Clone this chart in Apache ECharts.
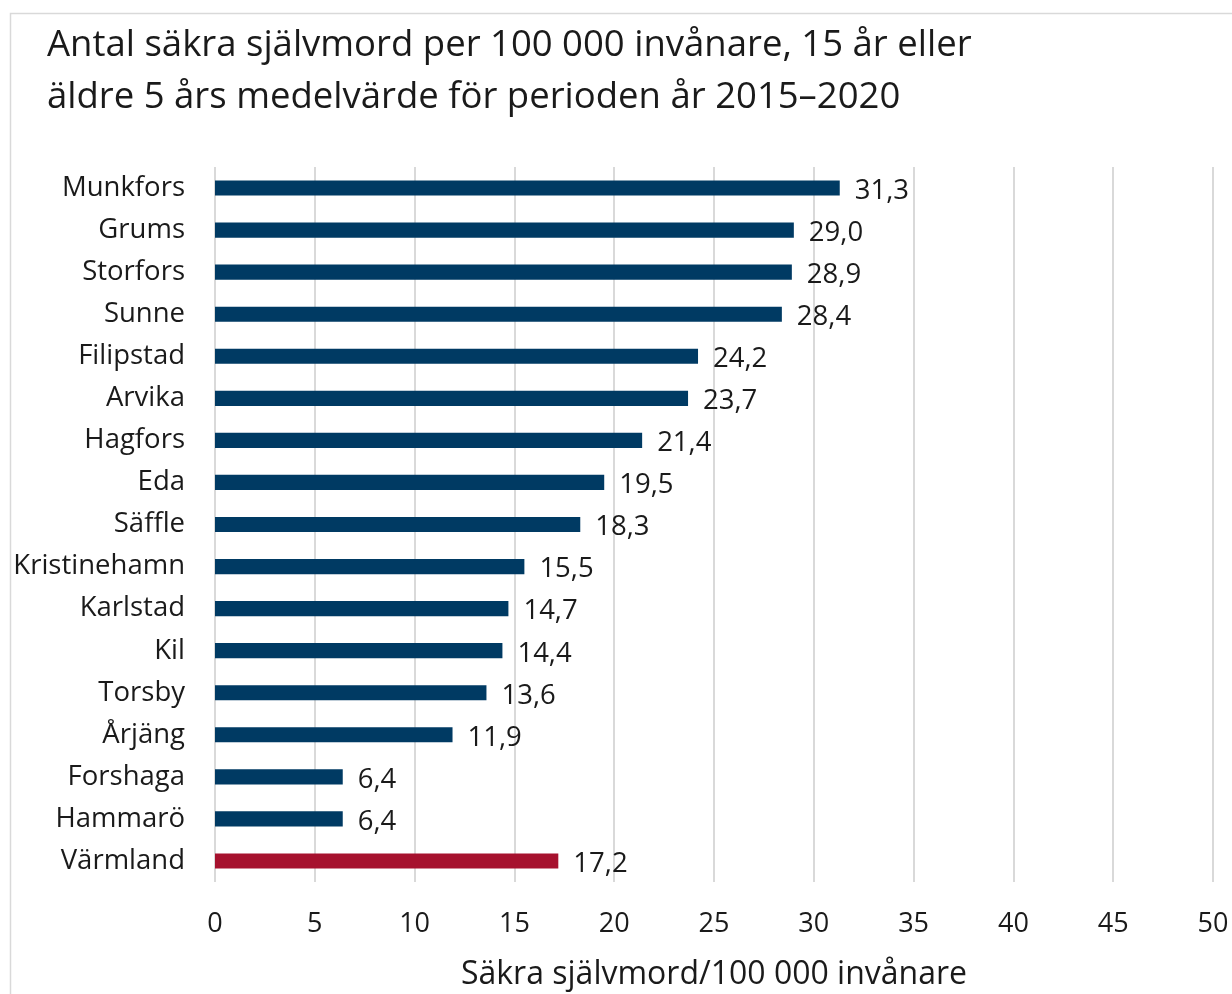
<!DOCTYPE html>
<html><head><meta charset="utf-8">
<script src="https://cdn.jsdelivr.net/npm/echarts@6/dist/echarts.min.js"></script>
<style>html,body{margin:0;padding:0;background:#fff}#c{width:1232px;height:994px}</style>
</head><body><div id="c"></div>
<script>
const categories = ["Munkfors","Grums","Storfors","Sunne","Filipstad","Arvika","Hagfors","Eda","Säffle","Kristinehamn","Karlstad","Kil","Torsby","Årjäng","Forshaga","Hammarö","Värmland"];
const values = [31.3,29.0,28.9,28.4,24.2,23.7,21.4,19.5,18.3,15.5,14.7,14.4,13.6,11.9,6.4,6.4,17.2];
const highlight = "Värmland";
const titleText = "Antal säkra självmord per 100 000 invånare, 15 år eller\näldre 5 års medelvärde för perioden år 2015–2020";
const xAxisName = "Säkra självmord/100 000 invånare";

const FONT = "'Open Sans', sans-serif";
const chart = echarts.init(document.getElementById('c'), null, {renderer:'canvas'});
chart.setOption({
  animation:false,
  backgroundColor:'#fff',
  graphic:[{type:'rect',left:8,top:11,shape:{width:1300,height:1100},style:{fill:'none',stroke:'#d9d9d9',lineWidth:1.5},z:-1}],
  title:{text:titleText,left:42,top:15,textStyle:{fontFamily:FONT,fontSize:36.5,fontWeight:'normal',color:'#1a1a1a',lineHeight:52}},
  grid:{left:215,right:19,top:167,height:715,containLabel:false,outerBoundsMode:'none'},
  xAxis:{type:'value',min:0,max:50,interval:5,
    axisLine:{show:false},axisTick:{show:false},
    splitLine:{lineStyle:{color:'#d9d9d9',width:2}},
    axisLabel:{fontFamily:FONT,fontSize:27,color:'#1a1a1a',margin:29},
    name:xAxisName,nameLocation:'middle',nameGap:77,
    nameTextStyle:{fontFamily:FONT,fontSize:32,color:'#1a1a1a'}},
  yAxis:{type:'category',data:categories,inverse:true,
    axisLine:{show:false},axisTick:{show:false},
    axisLabel:{fontFamily:FONT,fontSize:27.5,color:'#1a1a1a',margin:30,padding:[3,0,0,0]}},
  series:[{type:'bar',barWidth:'36%',
    data:values.map((v,i)=>({value:v,itemStyle:{color:categories[i]===highlight?'#a6112e':'#003a63'}})),
    label:{show:true,position:'right',distance:15,offset:[0,3],fontFamily:FONT,fontSize:27.5,color:'#1a1a1a',
      formatter:p=>p.value.toFixed(1).replace('.',',')}}]
});
</script></body></html>
